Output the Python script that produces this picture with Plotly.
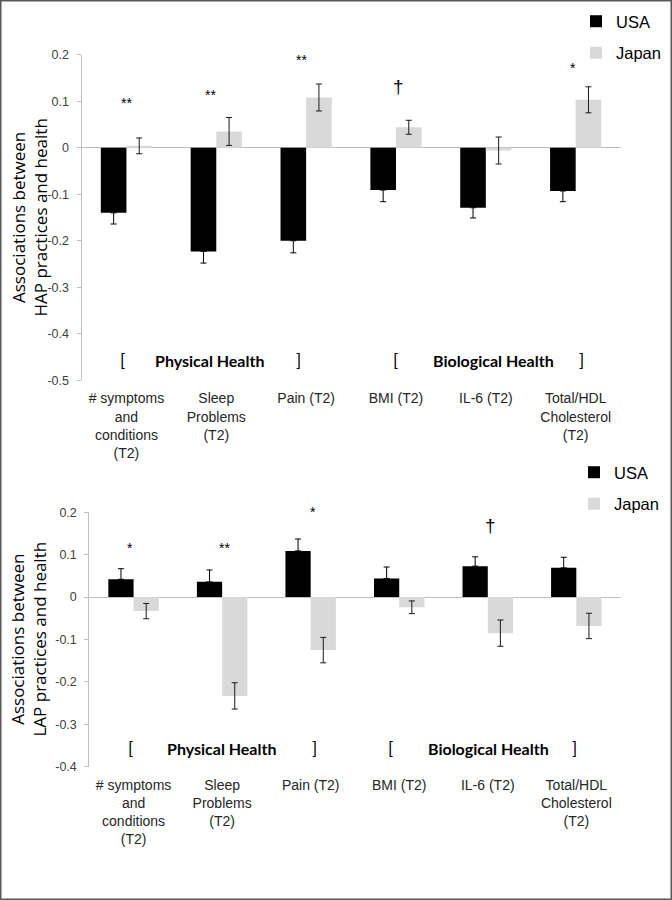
import plotly.graph_objects as go

# ---------------- data ----------------
CATEGORIES = [
    "# symptoms<br>and<br>conditions<br>(T2)",
    "Sleep<br>Problems<br>(T2)",
    "Pain (T2)",
    "BMI (T2)",
    "IL-6 (T2)",
    "Total/HDL<br>Cholesterol<br>(T2)",
]
SERIES = ["USA", "Japan"]

HAP_USA = [-0.140, -0.223, -0.200, -0.091, -0.129, -0.093]
HAP_USA_ERR = [0.024, 0.025, 0.026, 0.025, 0.022, 0.023]
HAP_JAPAN = [0.004, 0.035, 0.108, 0.044, -0.006, 0.103]
HAP_JAPAN_ERR = [0.017, 0.030, 0.029, 0.015, 0.029, 0.028]

LAP_USA = [0.042, 0.036, 0.109, 0.044, 0.073, 0.069]
LAP_USA_ERR = [0.025, 0.028, 0.028, 0.027, 0.022, 0.025]
LAP_JAPAN = [-0.033, -0.233, -0.125, -0.024, -0.085, -0.068]
LAP_JAPAN_ERR = [0.018, 0.031, 0.030, 0.015, 0.031, 0.030]

HAP_TICK_VALS = [0.2, 0.1, 0, -0.1, -0.2, -0.3, -0.4, -0.5]
HAP_TICK_TEXT = ["0.2", "0.1", "0", "-0.1", "-0.2", "-0.3", "-0.4", "-0.5"]
LAP_TICK_VALS = [0.2, 0.1, 0, -0.1, -0.2, -0.3, -0.4]
LAP_TICK_TEXT = ["0.2", "0.1", "0", "-0.1", "-0.2", "-0.3", "-0.4"]

HAP_SIG = ["**", "**", "**", "†", "*"]
LAP_SIG = ["*", "**", "*", "†"]

Y_TITLE_HAP = "Associations between<br>HAP practices and health"
Y_TITLE_LAP = "Associations between<br>LAP practices and health"
GROUP_LABELS = ["Physical Health", "Biological Health"]

# ---------------- layout constants ----------------
W, H = 672, 900
BLACK = "#000000"
GREY_BAR = "#d9d9d9"
AXIS_GREY = "#bfbfbf"
ERR_COLOR = "#1a1a1a"
SANS = "Liberation Sans, Arial, sans-serif"
TITLE_FONT = "Open Sans, sans-serif"
BOLD_FONT = "Lato, sans-serif"


def px_x(p):
    return p / W


def px_y(p):
    return 1 - p / H


# plot rectangles in pixels (left, right, top, bottom)
TOP_BOX = (81.5, 620.6, 54.7, 380.3)
BOT_BOX = (89.3, 620.6, 512.3, 766.7)

# significance marker positions (category index offset, y value)
HAP_SIG_POS = [(0.0, 0.097), (0.94, 0.113), (1.95, 0.188), (3.03, 0.132), (4.97, 0.171)]
LAP_SIG_POS = [(-0.04, 0.116), (1.03, 0.116), (2.03, 0.200), (4.03, 0.170)]
HAP_SIG_SIZE = [14, 14, 14, 19, 14]
LAP_SIG_SIZE = [14, 14, 14, 19]

# bracket group label positions
HAP_BRACKET = dict(y=-0.458, xs=[-0.04, 0.93, 1.91, 3.0, 4.09, 5.06])
LAP_BRACKET = dict(y=-0.358, xs=[-0.04, 0.99, 2.04, 2.9, 4.01, 4.98])

fig = go.Figure()


def outward(vals, errs):
    """Error bar shown only on the side away from zero (inner half hidden by the bar)."""
    plus = [e if v >= 0 else 0 for v, e in zip(vals, errs)]
    minus = [e if v < 0 else 0 for v, e in zip(vals, errs)]
    return plus, minus


panels = [
    ("x", "y", "legend", [HAP_USA, HAP_JAPAN], [HAP_USA_ERR, HAP_JAPAN_ERR]),
    ("x2", "y2", "legend2", [LAP_USA, LAP_JAPAN], [LAP_USA_ERR, LAP_JAPAN_ERR]),
]
colors = [BLACK, GREY_BAR]
for xa, ya, leg, vals, errs in panels:
    for i, (name, v, e, c) in enumerate(zip(SERIES, vals, errs, colors)):
        if i == 0:
            plus, minus = outward(v, e)
            ey = dict(type="data", symmetric=False, array=plus, arrayminus=minus,
                      color=BLACK, thickness=1, width=3)
        else:
            ey = dict(type="data", array=e, color=ERR_COLOR, thickness=1, width=3)
        fig.add_trace(go.Bar(
            x=CATEGORIES, y=v, name=name, xaxis=xa, yaxis=ya,
            marker=dict(color=c, line=dict(width=0)),
            error_y=ey,
            legend=leg, legendgroup=name + leg,
            hoverinfo="skip",
        ))

common_x = dict(
    type="category", showline=False, showgrid=False, zeroline=False, ticks="",
    tickfont=dict(family=SANS, size=14, color="#262626"),
    ticklabelstandoff=8, fixedrange=True,
)
common_y = dict(
    showline=True, linecolor=AXIS_GREY, linewidth=1, showgrid=False,
    zeroline=True, zerolinecolor=AXIS_GREY, zerolinewidth=1,
    ticks="outside", ticklen=4, tickcolor=AXIS_GREY, tickwidth=1,
    tickfont=dict(family=SANS, size=12.5, color="#404040"),
    ticklabelstandoff=5, fixedrange=True,
)

fig.update_layout(
    width=W, height=H,
    margin=dict(l=0, r=0, t=0, b=0, autoexpand=False),
    paper_bgcolor="white", plot_bgcolor="white",
    barmode="group", bargap=0.43, bargroupgap=0,
    showlegend=True,
    xaxis=dict(domain=[px_x(TOP_BOX[0]), px_x(TOP_BOX[1])], anchor="y", **common_x),
    yaxis=dict(domain=[px_y(TOP_BOX[3]), px_y(TOP_BOX[2])], anchor="x",
               range=[-0.5, 0.2], tickvals=HAP_TICK_VALS, ticktext=HAP_TICK_TEXT, **common_y),
    xaxis2=dict(domain=[px_x(BOT_BOX[0]), px_x(BOT_BOX[1])], anchor="y2", **common_x),
    yaxis2=dict(domain=[px_y(BOT_BOX[3]), px_y(BOT_BOX[2])], anchor="x2",
                range=[-0.4, 0.2], tickvals=LAP_TICK_VALS, ticktext=LAP_TICK_TEXT, **common_y),
    legend=dict(x=px_x(576), y=px_y(4), xanchor="left", yanchor="top",
                font=dict(family=SANS, size=16.5, color="#000"),
                traceorder="grouped", tracegroupgap=7, bgcolor="rgba(0,0,0,0)"),
    legend2=dict(x=px_x(574), y=px_y(455), xanchor="left", yanchor="top",
                 font=dict(family=SANS, size=16.5, color="#000"),
                 traceorder="grouped", tracegroupgap=7, bgcolor="rgba(0,0,0,0)"),
    hovermode=False,
)

annotations = []
# y-axis titles
annotations.append(dict(text=Y_TITLE_HAP, x=px_x(29), y=px_y((TOP_BOX[2] + TOP_BOX[3]) / 2),
                        xref="paper", yref="paper", textangle=-90, showarrow=False,
                        xanchor="center", yanchor="middle",
                        font=dict(family=TITLE_FONT, size=17, color="#000")))
annotations.append(dict(text=Y_TITLE_LAP, x=px_x(28), y=px_y((BOT_BOX[2] + BOT_BOX[3]) / 2),
                        xref="paper", yref="paper", textangle=-90, showarrow=False,
                        xanchor="center", yanchor="middle",
                        font=dict(family=TITLE_FONT, size=17, color="#000")))

# significance markers
for sigs, pos, sizes, xr, yr in [(HAP_SIG, HAP_SIG_POS, HAP_SIG_SIZE, "x", "y"),
                                 (LAP_SIG, LAP_SIG_POS, LAP_SIG_SIZE, "x2", "y2")]:
    for s, (xx, yy), sz in zip(sigs, pos, sizes):
        annotations.append(dict(text=s, x=xx, y=yy, xref=xr, yref=yr, showarrow=False,
                                xanchor="center", yanchor="middle",
                                font=dict(family=SANS, size=sz, color="#000")))

# bracketed group labels
for br, xr, yr in [(HAP_BRACKET, "x", "y"), (LAP_BRACKET, "x2", "y2")]:
    texts = ["[", GROUP_LABELS[0], "]", "[", GROUP_LABELS[1], "]"]
    for t, xx in zip(texts, br["xs"]):
        bold = t not in ("[", "]")
        annotations.append(dict(
            text=f"<b>{t}</b>" if bold else t, x=xx, y=br["y"], xref=xr, yref=yr,
            showarrow=False, xanchor="center", yanchor="middle",
            font=dict(family=BOLD_FONT, size=16 if bold else 17, color="#000")))

fig.update_layout(annotations=annotations)

# outer frame
fig.add_shape(type="rect", xref="paper", yref="paper", x0=0, y0=0, x1=1, y1=1,
              line=dict(color="#595959", width=3), fillcolor="rgba(0,0,0,0)", layer="above")

fig.write_html("out.html", config={"displayModeBar": False, "staticPlot": True},
               post_script="document.body.style.margin='0';")
